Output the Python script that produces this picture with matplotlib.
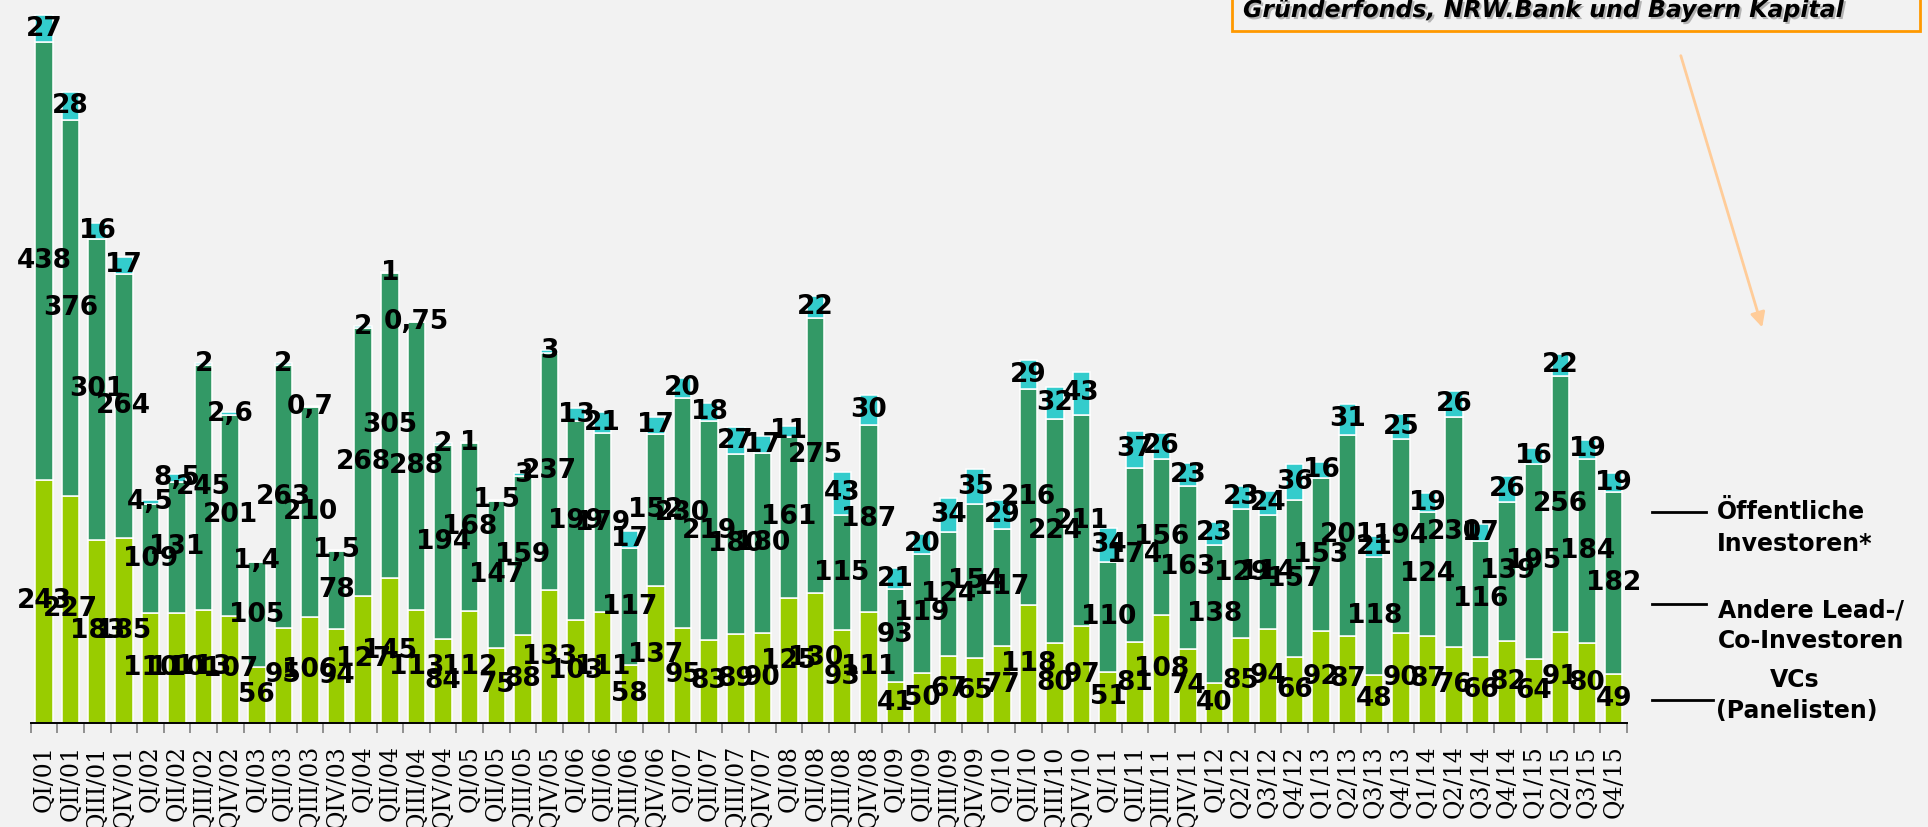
import matplotlib.pyplot as plt
from matplotlib.patches import Rectangle
import matplotlib.patheffects as pe

# quarters 2001-2015
quarters = [
    "QI/01", "QII/01", "QIII/01", "QIV/01",
    "QI/02", "QII/02", "QIII/02", "QIV/02",
    "QI/03", "QII/03", "QIII/03", "QIV/03",
    "QI/04", "QII/04", "QIII/04", "QIV/04",
    "QI/05", "QII/05", "QIII/05", "QIV/05",
    "QI/06", "QII/06", "QIII/06", "QIV/06",
    "QI/07", "QII/07", "QIII/07", "QIV/07",
    "QI/08", "QII/08", "QIII/08", "QIV/08",
    "QI/09", "QII/09", "QIII/09", "QIV/09",
    "QI/10", "QII/10", "QIII/10", "QIV/10",
    "QI/11", "QII/11", "QIII/11", "QIV/11",
    "QI/12", "Q2/12", "Q3/12", "Q4/12",
    "Q1/13", "Q2/13", "Q3/13", "Q4/13",
    "Q1/14", "Q2/14", "Q3/14", "Q4/14",
    "Q1/15", "Q2/15", "Q3/15", "Q4/15",
]

# VCs (Panelisten)
vcs = [243, 227, 183, 185, 110, 110, 113, 107, 56, 95, 106, 94,
       127, 145, 113, 84, 112, 75, 88, 133, 103, 111, 58, 137,
       95, 83, 89, 90, 125, 130, 93, 111, 41, 50, 67, 65,
       77, 118, 80, 97, 51, 81, 108, 74, 40, 85, 94, 66,
       92, 87, 48, 90, 87, 76, 66, 82, 64, 91, 80, 49]

# Andere Lead-/Co-Investoren
andere = [438, 376, 301, 264, 109, 131, 245, 201, 105, 263, 210, 78,
          268, 305, 288, 194, 168, 147, 159, 237, 199, 179, 117, 152,
          230, 219, 180, 180, 161, 275, 115, 187, 93, 119, 124, 154,
          117, 216, 224, 211, 110, 174, 156, 163, 138, 129, 114, 157,
          153, 201, 118, 194, 124, 230, 116, 139, 195, 256, 184, 182]

# Oeffentliche Investoren
oeffentlich = [27, 28, 16, 17, 4.5, 8.5, 2, 2.6, 1.4, 2, 0.7, 1.5,
               2, 1, 0.75, 2, 1, 1.5, 3, 3, 13, 21, 17, 17,
               20, 18, 27, 17, 11, 22, 43, 30, 21, 20, 34, 35,
               29, 29, 32, 43, 34, 37, 26, 23, 23, 23, 24, 36,
               16, 31, 21, 25, 19, 26, 17, 26, 16, 22, 19, 19]

BG = "#F2F2F2"


def fmt(v):
    if v == int(v):
        return str(int(v))
    return str(v).replace(".", ",")


fig = plt.figure(figsize=(19.28, 8.27), dpi=100, facecolor=BG)
ax = fig.add_axes([30.7 / 1928, 104 / 827, (1627 - 30.7) / 1928, 723 / 827])
ax.set_facecolor(BG)

x = list(range(len(quarters)))
bottom3 = [a + b for a, b in zip(vcs, andere)]
bar_kw = dict(width=0.66, edgecolor="white", linewidth=1.1)
b1 = ax.bar(x, vcs, color="#99CC00", **bar_kw)
b2 = ax.bar(x, andere, bottom=vcs, color="#339966", **bar_kw)
b3 = ax.bar(x, oeffentlich, bottom=bottom3, color="#33CCCC", **bar_kw)

lab_kw = dict(label_type="center", fontsize=19, fontweight="bold", color="black")
ax.bar_label(b1, labels=[fmt(v) for v in vcs], **lab_kw)
ax.bar_label(b2, labels=[fmt(v) for v in andere], **lab_kw)
ax.bar_label(b3, labels=[fmt(v) for v in oeffentlich], **lab_kw)

ax.set_xlim(-0.5, len(quarters) - 0.5)
ax.set_ylim(0, 723)
for s in ["left", "right", "top"]:
    ax.spines[s].set_visible(False)
ax.spines["bottom"].set_color("black")
ax.spines["bottom"].set_linewidth(1.4)
ax.set_yticks([])
ax.set_xticks(x)
ax.set_xticklabels(quarters, rotation=90, fontfamily="DejaVu Serif", fontsize=17,
                   va="top", ha="center")
ax.set_xticks([i - 0.5 for i in range(len(quarters) + 1)], minor=True)
ax.tick_params(axis="x", which="major", length=0, pad=16)
ax.tick_params(axis="x", which="minor", length=7.5, width=1.2, color="#808080")

# overlay in pixel coordinates for legend, note box and arrow
ov = fig.add_axes([0, 0, 1, 1])
ov.set_xlim(0, 1928)
ov.set_ylim(827, 0)
ov.axis("off")

leg_kw = dict(fontsize=17, fontweight="bold", va="baseline")
ov.plot([1652, 1706], [512, 512], color="black", lw=2)
ov.text(1717, 519, "Öffentliche", ha="left", **leg_kw)
ov.text(1717, 551, "Investoren*", ha="left", **leg_kw)
ov.plot([1652, 1706], [604, 604], color="black", lw=2)
ov.text(1718, 617, "Andere Lead-/", ha="left", **leg_kw)
ov.text(1718, 648, "Co-Investoren", ha="left", **leg_kw)
ov.plot([1652, 1713], [700, 700], color="black", lw=2)
ov.text(1795, 687, "VCs", ha="center", **leg_kw)
ov.text(1716, 718, "(Panelisten)", ha="left", **leg_kw)

ov.add_patch(Rectangle((1232, -60), 688, 91, facecolor="none",
                       edgecolor="#FF9900", lw=2, clip_on=False))
ov.text(1243, 17, "Gründerfonds, NRW.Bank und Bayern Kapital", fontsize=17,
        fontweight="bold", fontstyle="italic", va="baseline", ha="left",
        path_effects=[pe.withSimplePatchShadow(offset=(1.5, -1.5), shadow_rgbFace="#888888", alpha=0.6)])
ov.annotate("", xy=(1763, 330), xytext=(1680, 53),
            arrowprops=dict(arrowstyle="-|>", color="#FFCC99", lw=2, mutation_scale=22))

fig.savefig("out.png", dpi=100, facecolor=BG)
